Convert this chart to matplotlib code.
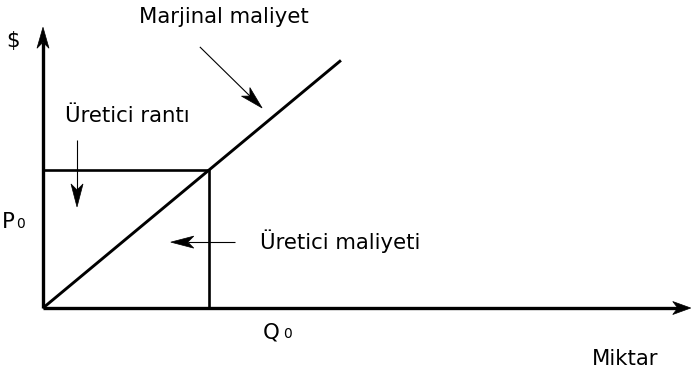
import matplotlib.pyplot as plt
import numpy as np
from matplotlib.patches import Polygon

# ekonomik birimler (miktar, fiyat)
Q0 = 4.0
P0 = 4.0
mc_q = [0.0, 7.18]          # marjinal maliyet egrisi p = q
mc_p = [0.0, 7.18]
x_max = 15.61
y_max = 8.14

plt.rcParams["font.family"] = ["DejaVu Sans"]

fig = plt.figure(figsize=(6.92, 3.75), dpi=100)
ax = fig.add_axes([0, 0, 1, 1])
ax.set_xlim(-1.036, 15.64)
ax.set_ylim(-1.942, 8.93)
ax.axis("off")


def ok(start, tip, lw, head_len=22, head_w=12, notch=6):
    """Cizgi + ici dolu, arkasi oyuk ok basi (piksel olculeri)."""
    t = ax.transData
    p0 = t.transform(start)
    p1 = t.transform(tip)
    u = (p1 - p0) / np.linalg.norm(p1 - p0)
    n = np.array([-u[1], u[0]])
    base = p1 - u * head_len
    pts = np.array([p1, base + n * head_w / 2, p1 - u * (head_len - notch), base - n * head_w / 2])
    pts = t.inverted().transform(pts)
    ax.plot([start[0], pts[2][0]], [start[1], pts[2][1]], color="black", lw=lw, solid_capstyle="butt")
    ax.add_patch(Polygon(pts, closed=True, facecolor="black", edgecolor="black", lw=0.5))


# eksenler
ok((0, 0), (x_max, 0), 2.4, head_len=18, head_w=13, notch=5)
ok((0, 0), (0, y_max), 2.4, head_len=21, head_w=12, notch=6)

# marjinal maliyet
ax.plot(mc_q, mc_p, color="black", lw=2.1, solid_capstyle="butt")
# uretici ranti kutusu
ax.plot([0, Q0, Q0], [P0, P0, 0], color="black", lw=1.9)

ok((3.78, 7.57), (5.28, 5.80), 0.8, head_len=23, head_w=12)
ok((0.82, 4.87), (0.82, 2.93), 0.8, head_len=23, head_w=12)
ok((4.63, 1.91), (3.08, 1.91), 0.8, head_len=23, head_w=12)

fs = 15.3
ax.text(-0.72, 7.74, "$", fontsize=fs, ha="center", va="center")
ax.text(4.37, 8.26, "Marjinal maliyet", fontsize=fs, ha="center", va="baseline")
ax.text(0.53, 5.39, "Üretici rantı", fontsize=fs, ha="left", va="baseline")
ax.text(5.23, 1.71, "Üretici maliyeti", fontsize=fs, ha="left", va="baseline")
ax.text(13.23, -1.65, "Miktar", fontsize=fs, ha="left", va="baseline")
ax.text(-0.98, 2.32, "P", fontsize=fs, ha="left", va="baseline")
ax.text(-0.64, 2.32, "0", fontsize=10, ha="left", va="baseline")
ax.text(5.30, -0.87, "Q", fontsize=fs, ha="left", va="baseline")
ax.text(5.78, -0.87, "0", fontsize=10, ha="left", va="baseline")

fig.savefig("out.png", dpi=100)
